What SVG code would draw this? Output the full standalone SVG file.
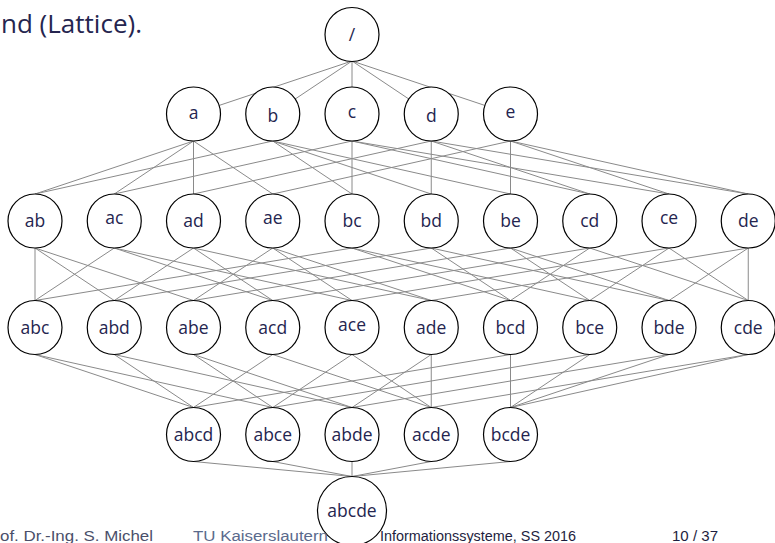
<svg xmlns="http://www.w3.org/2000/svg" width="775" height="543" viewBox="0 0 775 543">
<style>
.e{stroke:#8a8a8a;stroke-width:1;fill:none}
.n circle{fill:#fff;stroke:#000;stroke-width:1.2}
.n text{font-family:"Open Sans",sans-serif;font-size:17.5px;fill:#25254f;text-anchor:middle}
.hd{font-family:"Open Sans",sans-serif;font-size:26px;fill:#25254f}
.ft{font-family:"Liberation Sans",sans-serif;font-size:15.5px}
</style>
<rect width="775" height="543" fill="#fff"/>
<text class="hd" x="1" y="33" textLength="141" lengthAdjust="spacingAndGlyphs">nd (Lattice).</text>
<g id="connectors" class="e">
<path d="M352 61L193.5 114M352 61L272.75 114M352 61L352 114M352 61L431.25 114M352 61L510.5 114"/>
<path d="M193.5 141L35 194M193.5 141L114.25 194M193.5 141L193.5 194M193.5 141L272.75 194
M272.75 141L35 194M272.75 141L352 194M272.75 141L431.25 194M272.75 141L510.5 194
M352 141L114.25 194M352 141L352 194M352 141L589.75 194M352 141L669 194
M431.25 141L193.5 194M431.25 141L431.25 194M431.25 141L589.75 194M431.25 141L748.25 194
M510.5 141L272.75 194M510.5 141L510.5 194M510.5 141L669 194M510.5 141L748.25 194"/>
<path d="M35 248L35 300.5M114.25 248L35 300.5M352 248L35 300.5
M35 248L114.25 300.5M193.5 248L114.25 300.5M431.25 248L114.25 300.5
M35 248L193.5 300.5M272.75 248L193.5 300.5M510.5 248L193.5 300.5
M114.25 248L272.75 300.5M193.5 248L272.75 300.5M589.75 248L272.75 300.5
M114.25 248L352 300.5M272.75 248L352 300.5M669 248L352 300.5
M193.5 248L431.25 300.5M272.75 248L431.25 300.5M748.25 248L431.25 300.5
M352 248L510.5 300.5M431.25 248L510.5 300.5M589.75 248L510.5 300.5
M352 248L589.75 300.5M510.5 248L589.75 300.5M669 248L589.75 300.5
M431.25 248L669 300.5M510.5 248L669 300.5M748.25 248L669 300.5
M589.75 248L748.25 300.5M669 248L748.25 300.5M748.25 248L748.25 300.5"/>
<path d="M35 354.5L193.5 407.5M114.25 354.5L193.5 407.5M272.75 354.5L193.5 407.5M510.5 354.5L193.5 407.5
M35 354.5L272.75 407.5M193.5 354.5L272.75 407.5M352 354.5L272.75 407.5M589.75 354.5L272.75 407.5
M114.25 354.5L352 407.5M193.5 354.5L352 407.5M431.25 354.5L352 407.5M669 354.5L352 407.5
M272.75 354.5L431.25 407.5M352 354.5L431.25 407.5M431.25 354.5L431.25 407.5M748.25 354.5L431.25 407.5
M510.5 354.5L510.5 407.5M589.75 354.5L510.5 407.5M669 354.5L510.5 407.5M748.25 354.5L510.5 407.5"/>
<path d="M193.5 461.5L352 476.5M272.75 461.5L352 476.5M352 461.5L352 476.5M431.25 461.5L352 476.5M510.5 461.5L352 476.5"/>
</g>
<g id="n-empty" class="n"><circle cx="352" cy="34.5" r="27"/><text x="352" y="40.5">/</text></g>
<g id="n-a" class="n"><circle cx="193.5" cy="114" r="27"/><text x="193.5" y="118.5">a</text></g>
<g id="n-b" class="n"><circle cx="272.75" cy="114" r="27"/><text x="272.75" y="121.5">b</text></g>
<g id="n-c" class="n"><circle cx="352" cy="114" r="27"/><text x="352" y="118">c</text></g>
<g id="n-d" class="n"><circle cx="431.25" cy="114" r="27"/><text x="431.25" y="121.5">d</text></g>
<g id="n-e" class="n"><circle cx="510.5" cy="114" r="27"/><text x="510.5" y="117.5">e</text></g>
<g id="n-ab" class="n"><circle cx="35" cy="221" r="27"/><text x="35" y="227">ab</text></g>
<g id="n-ac" class="n"><circle cx="114.25" cy="221" r="27"/><text x="114.25" y="224">ac</text></g>
<g id="n-ad" class="n"><circle cx="193.5" cy="221" r="27"/><text x="193.5" y="227">ad</text></g>
<g id="n-ae" class="n"><circle cx="272.75" cy="221" r="27"/><text x="272.75" y="224">ae</text></g>
<g id="n-bc" class="n"><circle cx="352" cy="221" r="27"/><text x="352" y="227">bc</text></g>
<g id="n-bd" class="n"><circle cx="431.25" cy="221" r="27"/><text x="431.25" y="227">bd</text></g>
<g id="n-be" class="n"><circle cx="510.5" cy="221" r="27"/><text x="510.5" y="227">be</text></g>
<g id="n-cd" class="n"><circle cx="589.75" cy="221" r="27"/><text x="589.75" y="227">cd</text></g>
<g id="n-ce" class="n"><circle cx="669" cy="221" r="27"/><text x="669" y="224">ce</text></g>
<g id="n-de" class="n"><circle cx="748.25" cy="221" r="27"/><text x="748.25" y="227">de</text></g>
<g id="n-abc" class="n"><circle cx="35" cy="327.5" r="27"/><text x="35" y="333.5">abc</text></g>
<g id="n-abd" class="n"><circle cx="114.25" cy="327.5" r="27"/><text x="114.25" y="333.5">abd</text></g>
<g id="n-abe" class="n"><circle cx="193.5" cy="327.5" r="27"/><text x="193.5" y="333.5">abe</text></g>
<g id="n-acd" class="n"><circle cx="272.75" cy="327.5" r="27"/><text x="272.75" y="333.5">acd</text></g>
<g id="n-ace" class="n"><circle cx="352" cy="327.5" r="27"/><text x="352" y="330.5">ace</text></g>
<g id="n-ade" class="n"><circle cx="431.25" cy="327.5" r="27"/><text x="431.25" y="333.5">ade</text></g>
<g id="n-bcd" class="n"><circle cx="510.5" cy="327.5" r="27"/><text x="510.5" y="333.5">bcd</text></g>
<g id="n-bce" class="n"><circle cx="589.75" cy="327.5" r="27"/><text x="589.75" y="333.5">bce</text></g>
<g id="n-bde" class="n"><circle cx="669" cy="327.5" r="27"/><text x="669" y="333.5">bde</text></g>
<g id="n-cde" class="n"><circle cx="748.25" cy="327.5" r="27"/><text x="748.25" y="333.5">cde</text></g>
<g id="n-abcd" class="n"><circle cx="193.5" cy="434.5" r="27"/><text x="193.5" y="440.5">abcd</text></g>
<g id="n-abce" class="n"><circle cx="272.75" cy="434.5" r="27"/><text x="272.75" y="440.5">abce</text></g>
<g id="n-abde" class="n"><circle cx="352" cy="434.5" r="27"/><text x="352" y="440.5">abde</text></g>
<g id="n-acde" class="n"><circle cx="431.25" cy="434.5" r="27"/><text x="431.25" y="440.5">acde</text></g>
<g id="n-bcde" class="n"><circle cx="510.5" cy="434.5" r="27"/><text x="510.5" y="440.5">bcde</text></g>
<g id="n-abcde" class="n"><circle cx="352" cy="511" r="34.5"/><text x="352" y="517">abcde</text></g>
<g id="footer" class="ft">
<text x="0" y="541" fill="#4a4f6a" textLength="153" lengthAdjust="spacingAndGlyphs">of. Dr.-Ing. S. Michel</text>
<text x="193" y="541" fill="#5a6a8c" textLength="135" lengthAdjust="spacingAndGlyphs">TU Kaiserslautern</text>
<text x="380" y="541" fill="#1e1e40" textLength="196" lengthAdjust="spacingAndGlyphs">Informationssysteme, SS 2016</text>
<text x="672" y="541" fill="#1e1e40" textLength="46" lengthAdjust="spacingAndGlyphs">10 / 37</text>
</g>
</svg>
